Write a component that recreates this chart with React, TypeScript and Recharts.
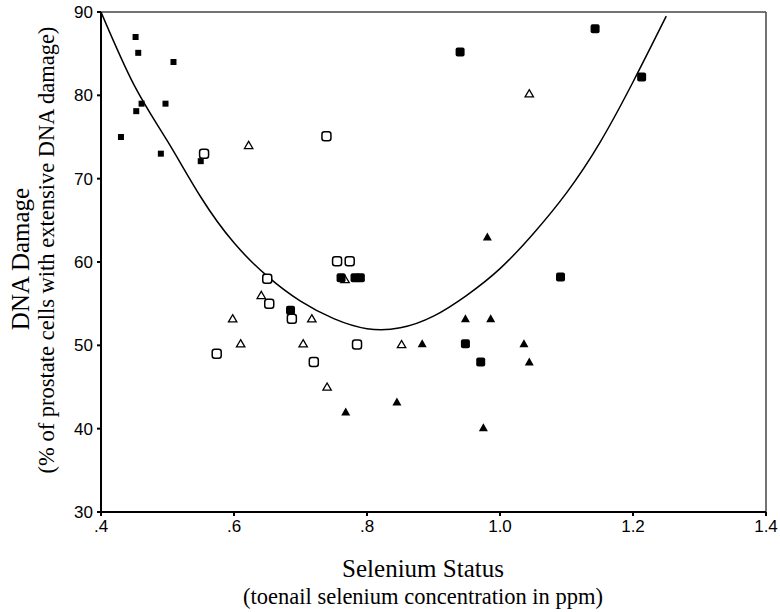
import React from "react";
import {
  ComposedChart,
  Line,
  Scatter,
  XAxis,
  YAxis,
  ReferenceLine,
  Label,
} from "recharts";

// small filled squares
const smallSquares = [
  { x: 0.43, y: 75 },
  { x: 0.452, y: 87 },
  { x: 0.456, y: 85.1 },
  { x: 0.461, y: 79 },
  { x: 0.453, y: 78.1 },
  { x: 0.49, y: 73 },
  { x: 0.497, y: 79 },
  { x: 0.509, y: 84 },
  { x: 0.55, y: 72.1 },
];

// large filled rounded squares
const filledSquares = [
  { x: 0.94, y: 85.2 },
  { x: 1.143, y: 88 },
  { x: 1.213, y: 82.2 },
  { x: 1.091, y: 58.2 },
  { x: 0.761, y: 58.1 },
  { x: 0.782, y: 58.1 },
  { x: 0.79, y: 58.1 },
  { x: 0.948, y: 50.2 },
  { x: 0.971, y: 48 },
  { x: 0.685, y: 54.2 },
];

const openSquares = [
  { x: 0.555, y: 73 },
  { x: 0.739, y: 75.1 },
  { x: 0.65, y: 58 },
  { x: 0.653, y: 55 },
  { x: 0.687, y: 53.2 },
  { x: 0.574, y: 49 },
  { x: 0.72, y: 48 },
  { x: 0.785, y: 50.1 },
  { x: 0.755, y: 60.1 },
  { x: 0.774, y: 60.1 },
];

const openTriangles = [
  { x: 0.622, y: 74 },
  { x: 1.044, y: 80.2 },
  { x: 0.641, y: 56 },
  { x: 0.598, y: 53.2 },
  { x: 0.61, y: 50.2 },
  { x: 0.717, y: 53.2 },
  { x: 0.704, y: 50.2 },
  { x: 0.74, y: 45 },
  { x: 0.852, y: 50.1 },
  { x: 0.767, y: 57.9 },
];

const filledTriangles = [
  { x: 0.981, y: 63 },
  { x: 0.948, y: 53.2 },
  { x: 0.986, y: 53.2 },
  { x: 0.883, y: 50.2 },
  { x: 1.036, y: 50.2 },
  { x: 1.044, y: 48 },
  { x: 0.768, y: 42 },
  { x: 0.845, y: 43.2 },
  { x: 0.975, y: 40.1 },
];

// fitted curve
const curveX = [0.4, 0.45, 0.5, 0.55, 0.6, 0.65, 0.7, 0.75, 0.8, 0.85, 0.9, 0.95, 1.0, 1.05, 1.1, 1.15, 1.2, 1.25];
const curveY = [90, 81.2, 74.5, 67.8, 62.3, 58.3, 55.3, 53.2, 52.0, 52.1, 53.5, 56.0, 59.2, 63.4, 68.3, 74.3, 81.6, 89.5];
const curve = curveX.map((x, i) => ({ x, y: curveY[i] }));

const xTicks = [0.4, 0.6, 0.8, 1.0, 1.2, 1.4];
const yTicks = [30, 40, 50, 60, 70, 80, 90];

const fmtX = (v: number) => (v < 1 ? "." + Math.round(v * 10) : v.toFixed(1));

const SmallSquare = (p: any) => (
  <rect x={p.cx - 3} y={p.cy - 3} width={6} height={6} fill="#000" />
);
const FilledSquare = (p: any) => (
  <rect x={p.cx - 4.5} y={p.cy - 4.5} width={9} height={9} rx={2} fill="#000" />
);
const OpenSquare = (p: any) => (
  <rect x={p.cx - 4.5} y={p.cy - 4.5} width={9} height={9} rx={2.5} fill="#fff" stroke="#000" strokeWidth={1.5} />
);
const OpenTriangle = (p: any) => (
  <path d={`M${p.cx},${p.cy - 4} L${p.cx + 4.2},${p.cy + 3.2} L${p.cx - 4.2},${p.cy + 3.2} Z`} fill="#fff" stroke="#000" strokeWidth={1.3} />
);
const FilledTriangle = (p: any) => (
  <path d={`M${p.cx},${p.cy - 4.5} L${p.cx + 4.5},${p.cy + 3.5} L${p.cx - 4.5},${p.cy + 3.5} Z`} fill="#000" />
);

const serif = "'Liberation Serif', 'Times New Roman', serif";
const sans = "'Liberation Sans', Arial, sans-serif";

const YTitle = () => (
  <g>
    <text x={20} y={259} transform="rotate(-90 20 259)" textAnchor="middle" dominantBaseline="central" fontFamily={serif} fontSize={25} fill="#000">
      DNA Damage
    </text>
    <text x={46} y={250} transform="rotate(-90 46 250)" textAnchor="middle" dominantBaseline="central" fontFamily={serif} fontSize={22.5} fill="#000">
      (% of prostate cells with extensive DNA damage)
    </text>
  </g>
);

const XTitle = () => (
  <g>
    <text x={423} y={568} textAnchor="middle" dominantBaseline="central" fontFamily={serif} fontSize={25} fill="#000">
      Selenium Status
    </text>
    <text x={423} y={596} textAnchor="middle" dominantBaseline="central" fontFamily={serif} fontSize={22.5} fill="#000">
      (toenail selenium concentration in ppm)
    </text>
  </g>
);

export default function App() {
  return (
    <div style={{ position: "absolute", left: 0, top: 0, width: 780, height: 612, background: "#fff" }}>
      <ComposedChart width={780} height={612} margin={{ top: 12, right: 14, bottom: 70, left: 0 }}>
        <XAxis
          dataKey="x"
          type="number"
          domain={[0.4, 1.4]}
          ticks={xTicks}
          tickFormatter={fmtX}
          height={30}
          stroke="#000"
          strokeWidth={2}
          tickSize={4}
          tickMargin={4}
          tick={{ fill: "#000", fontFamily: sans, fontSize: 17 }}
          allowDataOverflow
        >
          <Label content={<XTitle />} />
        </XAxis>
        <YAxis
          dataKey="y"
          type="number"
          domain={[30, 90]}
          ticks={yTicks}
          width={101}
          stroke="#000"
          strokeWidth={2}
          tickSize={4}
          tickMargin={4}
          tick={{ fill: "#000", fontFamily: sans, fontSize: 17 }}
          allowDataOverflow
        >
          <Label content={<YTitle />} />
        </YAxis>
        <ReferenceLine y={90} stroke="#444" strokeWidth={1.5} />
        <ReferenceLine x={1.4} stroke="#444" strokeWidth={1.5} />
        <Line data={curve} dataKey="y" type="natural" stroke="#000" strokeWidth={1.5} dot={false} isAnimationActive={false} />
        <Scatter data={smallSquares} dataKey="y" shape={<SmallSquare />} isAnimationActive={false} />
        <Scatter data={openSquares} dataKey="y" shape={<OpenSquare />} isAnimationActive={false} />
        <Scatter data={openTriangles} dataKey="y" shape={<OpenTriangle />} isAnimationActive={false} />
        <Scatter data={filledSquares} dataKey="y" shape={<FilledSquare />} isAnimationActive={false} />
        <Scatter data={filledTriangles} dataKey="y" shape={<FilledTriangle />} isAnimationActive={false} />
      </ComposedChart>
    </div>
  );
}
